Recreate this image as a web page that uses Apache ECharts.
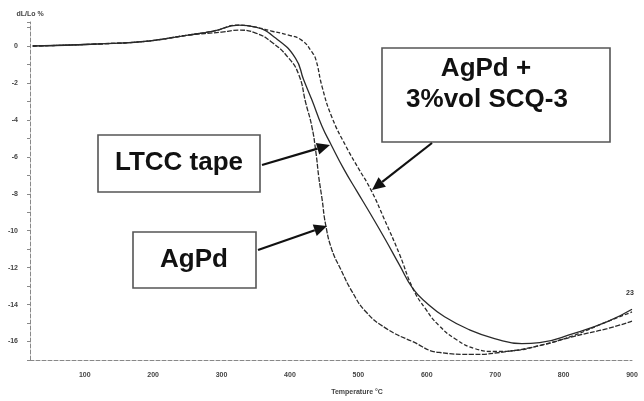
<!DOCTYPE html>
<html>
<head>
<meta charset="utf-8">
<script src="https://cdn.jsdelivr.net/npm/echarts@6/dist/echarts.min.js"></script>
<style>html,body{margin:0;padding:0;background:#fff}#c{width:644px;height:401px}</style>
</head>
<body>
<div id="c"></div>
<script>
// Temperature (°C) and dL/Lo (%)
var agpdTemp = [24,119,193,251,300,325,350,373,398,413,423,432,438,442,447,452,461,474,491,511,541,579,618,667,717,765,814,864,900];
var agpdVal  = [0,0.11,0.27,0.59,0.75,0.86,0.70,0.22,-0.65,-1.56,-3.07,-4.36,-5.77,-7.06,-8.30,-9.64,-11.0,-12.07,-13.31,-14.39,-15.30,-16.0,-16.59,-16.70,-16.54,-16.22,-15.73,-15.30,-14.9];

var ltccTemp = [24,119,193,251,288,325,350,379,408,420,432,447,460,479,498,518,539,560,580,601,626,662,699,739,765,814,864,900];
var ltccVal  = [0,0.11,0.27,0.59,0.81,1.13,1.02,0.43,-0.65,-1.83,-2.91,-4.36,-5.33,-6.68,-7.87,-9.11,-10.45,-11.85,-13.15,-13.95,-14.66,-15.36,-15.84,-16.11,-16.06,-15.57,-14.92,-14.25];

var scqTemp = [24,119,193,251,288,325,350,373,398,417,432,438,447,461,482,501,518,538,560,580,598,618,643,670,699,728,765,814,864,900];
var scqVal  = [0,0.11,0.27,0.59,0.81,1.13,1.02,0.81,0.59,0.32,-0.32,-0.75,-2.21,-3.83,-5.44,-6.68,-7.76,-9.38,-11.26,-13.15,-14.22,-15.14,-15.89,-16.38,-16.54,-16.49,-16.22,-15.68,-14.92,-14.4];

var xTickLabels = [100,200,300,400,500,600,700,800,900];
var yTickLabels = [0,-2,-4,-6,-8,-10,-12,-14,-16];
var seriesNames = ['AgPd','LTCC tape','AgPd + 3%vol SCQ-3'];

function pairs(t, v){ return t.map(function(x,i){ return [x, v[i]]; }); }

var chart = echarts.init(document.getElementById('c'), null, {renderer:'canvas'});
var tickFont = {fontSize:7, color:'#444', fontWeight:'bold', fontFamily:'Liberation Sans, Arial, sans-serif'};
var lineCol = '#2a2a2a';

function box(x,y,w,h){
  return {type:'rect', shape:{x:x,y:y,width:w,height:h}, style:{fill:'#fff', stroke:'#555', lineWidth:1.6}, z:10};
}
function txt(x,y,s){
  return {type:'text', x:x, y:y, style:{text:s, font:'bold 26px "Liberation Sans", Arial, sans-serif', fill:'#111', align:'center', verticalAlign:'middle'}, z:11};
}
function arrow(x1,y1,x2,y2){
  var ang = Math.atan2(y2-y1, x2-x1), L = 13, W = 6;
  var bx = x2 - L*Math.cos(ang), by = y2 - L*Math.sin(ang);
  var px = -Math.sin(ang)*W, py = Math.cos(ang)*W;
  return [
    {type:'line', shape:{x1:x1,y1:y1,x2:bx,y2:by}, style:{stroke:'#111', lineWidth:2.2}, z:12},
    {type:'polygon', shape:{points:[[x2,y2],[bx+px,by+py],[bx-px,by-py]]}, style:{fill:'#111'}, z:12}
  ];
}

var graphics = [
  box(98,135,162,57), txt(179,163,'LTCC tape'),
  box(133,232,123,56), txt(194,260,'AgPd'),
  box(382,48,228,94), txt(486,69,'AgPd +'), txt(487,100,'3%vol SCQ-3'),
  {type:'text', x:630, y:293, style:{text:'23', font:'bold 7px "Liberation Sans", Arial, sans-serif', fill:'#333', align:'center', verticalAlign:'middle'}, z:11}
].concat(arrow(262,165,330,145)).concat(arrow(258,250,327,226)).concat(arrow(432,143,372,190));

function mk(name, t, v, dash){
  return {name:name, type:'line', data:pairs(t,v), smooth:0.5, showSymbol:false, symbol:'none',
    lineStyle:{color:lineCol, width:1.3, type:dash}, z:3};
}

chart.setOption({
  animation:false,
  backgroundColor:'#fff',
  grid:{left:30, right:12, top:22, bottom:39},
  xAxis:{type:'value', min:20, max:900, interval:20,
    name:'Temperature °C', nameLocation:'middle', nameGap:29, nameTextStyle:{fontSize:7, color:'#444', fontWeight:'bold', padding:[0,0,0,52]},
    axisLine:{show:true, onZero:false, lineStyle:{color:'#888', width:1, type:[4,2]}},
    axisTick:{show:false},
    splitLine:{show:false},
    axisLabel:Object.assign({margin:12, formatter:function(v){ return xTickLabels.indexOf(v) >= 0 ? String(v) : ''; }}, tickFont)
  },
  yAxis:{type:'value', min:-17, max:1.3, interval:1,
    name:'dL/Lo %', nameLocation:'end', nameGap:4, nameTextStyle:{fontSize:7, color:'#444', fontWeight:'bold', align:'center', padding:[0,0,0,0]},
    axisLine:{show:true, onZero:false, lineStyle:{color:'#888', width:1, type:[4,2]}},
    axisTick:{show:true, length:3, inside:false, lineStyle:{color:'#888'}},
    splitLine:{show:false},
    axisLabel:Object.assign({margin:12, formatter:function(v){ return yTickLabels.indexOf(v) >= 0 ? String(v) : ''; }}, tickFont)
  },
  series:[
    mk(seriesNames[0], agpdTemp, agpdVal, [5,1.5]),
    mk(seriesNames[1], ltccTemp, ltccVal, 'solid'),
    mk(seriesNames[2], scqTemp, scqVal, [4,2])
  ],
  graphic:graphics
});
</script>
</body>
</html>
